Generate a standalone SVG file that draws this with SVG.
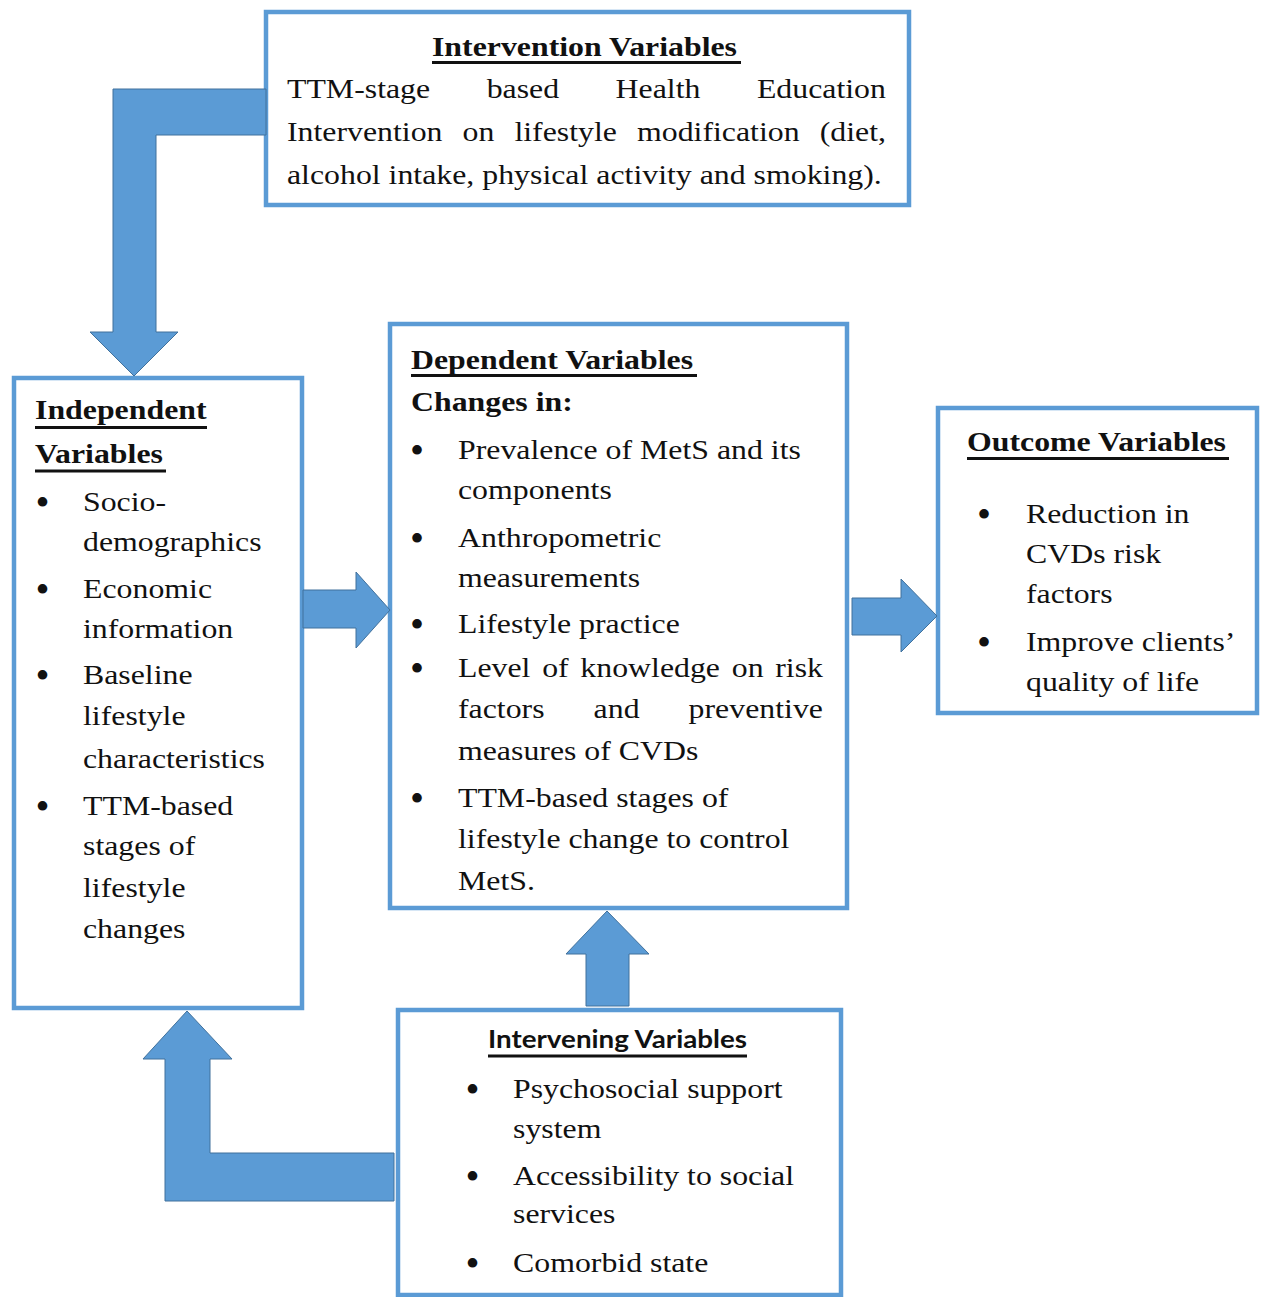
<svg xmlns="http://www.w3.org/2000/svg" width="1261" height="1297" viewBox="0 0 1261 1297">
  <style>
    .box { fill: #ffffff; stroke: #5B9BD5; stroke-width: 4.5; }
    .arrow { fill: #5B9BD5; stroke: #41719C; stroke-width: 1; stroke-linejoin: miter; }
    .t { font-family: "Liberation Serif", "Times New Roman", serif; font-size: 28px; fill: #111111; }
    .b { font-weight: bold; }
    .dot { font-family: "Liberation Serif", "Times New Roman", serif; font-size: 40px; fill: #111111; text-anchor: middle; }
    .sans { font-family: Lato, "Liberation Sans", sans-serif; font-size: 24px; font-weight: bold; fill: #111111; }
    .ul { stroke: #111111; stroke-width: 3; }
  </style>

  <rect width="1261" height="1297" fill="#ffffff"/>

  <!-- Intervention variables -->
  <g id="intervention">
    <rect class="box" x="266" y="12" width="643" height="193"/>
    <g transform="scale(1.137 1)">
      <text class="t b" x="379.95" y="56">Intervention Variables</text>
      <text class="t" y="98"><tspan x="252.42">TTM-stage</tspan><tspan x="428.02">based</tspan><tspan x="541.41">Health</tspan><tspan x="665.7">Education</tspan></text>
      <text class="t" y="141"><tspan x="252.42">Intervention</tspan><tspan x="406.86">on</tspan><tspan x="452.44">lifestyle</tspan><tspan x="560.24">modification</tspan><tspan x="720.92">(diet,</tspan></text>
      <text class="t" x="252.42" y="184">alcohol intake, physical activity and smoking).</text>
    </g>
    <line class="ul" x1="432" y1="62.5" x2="741" y2="62.5"/>
  </g>

  <!-- Independent variables -->
  <g id="independent">
    <rect class="box" x="14" y="378" width="288" height="630"/>
    <g transform="scale(1.137 1)">
      <text class="t b" x="30.78" y="419">Independent</text>
      <text class="t b" x="30.78" y="463">Variables</text>
      <text class="t" x="73" y="511">Socio-</text>
      <text class="t" x="73" y="551">demographics</text>
      <text class="t" x="73" y="598">Economic</text>
      <text class="t" x="73" y="638">information</text>
      <text class="t" x="73" y="684">Baseline</text>
      <text class="t" x="73" y="725">lifestyle</text>
      <text class="t" x="73" y="768">characteristics</text>
      <text class="t" x="73" y="815">TTM-based</text>
      <text class="t" x="73" y="855">stages of</text>
      <text class="t" x="73" y="897">lifestyle</text>
      <text class="t" x="73" y="938">changes</text>
    </g>
    <line class="ul" x1="35" y1="427.5" x2="207" y2="427.5"/>
    <line class="ul" x1="35" y1="471" x2="166" y2="471"/>
    <text class="dot" x="42.5" y="515.5">•</text>
    <text class="dot" x="42.5" y="602.5">•</text>
    <text class="dot" x="42.5" y="688.5">•</text>
    <text class="dot" x="42.5" y="819.5">•</text>
  </g>

  <!-- Dependent variables -->
  <g id="dependent">
    <rect class="box" x="390" y="324" width="457" height="584"/>
    <g transform="scale(1.137 1)">
      <text class="t b" x="361.48" y="369">Dependent Variables</text>
      <text class="t b" x="361.48" y="411">Changes in:</text>
      <text class="t" x="402.81" y="459">Prevalence of MetS and its</text>
      <text class="t" x="402.81" y="499">components</text>
      <text class="t" x="402.81" y="547">Anthropometric</text>
      <text class="t" x="402.81" y="587">measurements</text>
      <text class="t" x="402.81" y="633">Lifestyle practice</text>
      <text class="t" y="677"><tspan x="402.81">Level</tspan><tspan x="476.84">of</tspan><tspan x="510.43">knowledge</tspan><tspan x="643.56">on</tspan><tspan x="681.83">risk</tspan></text>
      <text class="t" y="718"><tspan x="402.81">factors</tspan><tspan x="522.1">and</tspan><tspan x="605.64">preventive</tspan></text>
      <text class="t" x="402.81" y="760">measures of CVDs</text>
      <text class="t" x="402.81" y="807">TTM-based stages of</text>
      <text class="t" x="402.81" y="848">lifestyle change to control</text>
      <text class="t" x="402.81" y="890">MetS.</text>
    </g>
    <line class="ul" x1="411" y1="375.5" x2="697" y2="375.5"/>
    <text class="dot" x="417" y="463.5">•</text>
    <text class="dot" x="417" y="551.5">•</text>
    <text class="dot" x="417" y="637.5">•</text>
    <text class="dot" x="417" y="681.5">•</text>
    <text class="dot" x="417" y="811.5">•</text>
  </g>

  <!-- Outcome variables -->
  <g id="outcome">
    <rect class="box" x="938" y="408" width="319" height="305"/>
    <g transform="scale(1.137 1)">
      <text class="t b" x="850.48" y="451">Outcome Variables</text>
      <text class="t" x="902.37" y="523">Reduction in</text>
      <text class="t" x="902.37" y="563">CVDs risk</text>
      <text class="t" x="902.37" y="603">factors</text>
      <text class="t" x="902.37" y="651">Improve clients’</text>
      <text class="t" x="902.37" y="691">quality of life</text>
    </g>
    <line class="ul" x1="967" y1="458.5" x2="1229" y2="458.5"/>
    <text class="dot" x="984" y="527.5">•</text>
    <text class="dot" x="984" y="655.5">•</text>
  </g>

  <!-- Intervening variables -->
  <g id="intervening">
    <rect class="box" x="398" y="1010" width="443" height="285"/>
    <text class="sans" x="488" y="1048" textLength="259" lengthAdjust="spacingAndGlyphs">Intervening Variables</text>
    <line class="ul" x1="488" y1="1056" x2="747" y2="1056"/>
    <g transform="scale(1.137 1)">
      <text class="t" x="451.19" y="1098">Psychosocial support</text>
      <text class="t" x="451.19" y="1138">system</text>
      <text class="t" x="451.19" y="1185">Accessibility to social</text>
      <text class="t" x="451.19" y="1223">services</text>
      <text class="t" x="451.19" y="1272">Comorbid state</text>
    </g>
    <text class="dot" x="472.5" y="1102.5">•</text>
    <text class="dot" x="472.5" y="1189.5">•</text>
    <text class="dot" x="472.5" y="1276.5">•</text>
  </g>

  <!-- Block arrows between the variable groups -->
  <g id="connectors">
    <polygon class="arrow" points="266,89 113,89 113,332 90,332 134,376 178,332 156,332 156,135 266,135"/>
    <polygon class="arrow" points="303,590 356,590 356,572 390,610 356,648 356,628 303,628"/>
    <polygon class="arrow" points="852,598 901,598 901,579 937,616 901,652 901,635 852,635"/>
    <polygon class="arrow" points="586,1006 586,954 566,954 607,911 649,954 629,954 629,1006"/>
    <polygon class="arrow" points="394,1201 165,1201 165,1059 143,1059 187,1011 232,1059 210,1059 210,1153 394,1153"/>
  </g>
</svg>
